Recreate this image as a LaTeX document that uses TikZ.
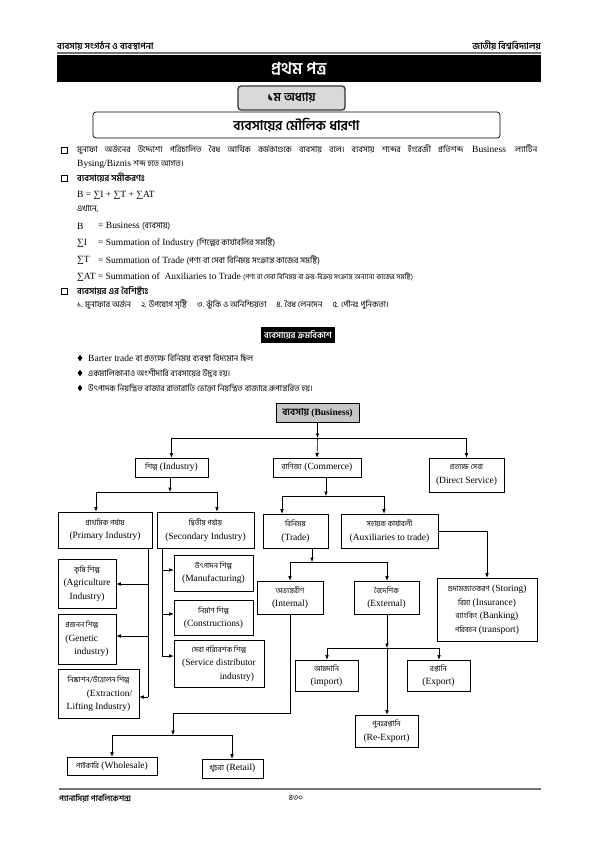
\documentclass[tikz,border=0pt]{standalone}
\usepackage{fontspec}
\setmainfont{Liberation Serif}
\newfontfamily\bn[Script=Bengali]{Hind Siliguri}
\usetikzlibrary{arrows.meta}
\newcommand\bnt[1]{{\bn\fontsize{8.3}{10}\selectfont #1}}
\newcommand\bnsm[1]{{\bn\fontsize{7}{9}\selectfont #1}}
\newcommand\bns[1]{{\bn\fontsize{7.4}{9}\selectfont #1}}
\begin{document}
\begin{tikzpicture}[x=1pt,y=-1pt,
  box/.style={draw, line width=0.6pt, inner sep=1pt, align=center, font=\fontsize{9.5}{13.5}\selectfont},
  arr/.style={line width=0.6pt, -{Latex[length=4.5pt,width=3.6pt]}},
  ln/.style={line width=0.6pt},
  body/.style={anchor=west, inner sep=0pt, font=\fontsize{9.5}{11}\selectfont},
  head/.style={anchor=west, inner sep=0pt, font=\bn\bfseries\fontsize{8.8}{10}\selectfont},
  sqb/.pic={\draw[line width=0.5pt] (-3,-3) rectangle (3,3); \fill (-2,3) rectangle (4.2,4.2); \fill (3,-2) rectangle (4.2,4.2);},
  dmb/.pic={\fill (0,-3.2) -- (2.3,0) -- (0,3.2) -- (-2.3,0) -- cycle;}
]
\useasboundingbox (0,0) rectangle (595,842);
\fill[white] (0,0) rectangle (595,842);

% ---------- header ----------
\node[anchor=west, inner sep=0pt, font=\bn\bfseries\fontsize{9}{10}\selectfont] (hl) at (57,46) {ব্যবসায় সংগঠন ও ব্যবস্থাপনা};
\node[anchor=east, inner sep=0pt, font=\bn\bfseries\fontsize{9}{10}\selectfont] (hr) at (541,46) {জাতীয় বিশ্ববিদ্যালয়};
\draw[black!55, line width=1.5pt] (57,53) -- (541,53);
\node[fill=black, text=white, minimum width=484pt, minimum height=27pt, inner sep=0pt,
      font=\bn\bfseries\fontsize{16.5}{18}\selectfont] (bar) at (299,68.5) {প্রথম পত্র};
\node[draw=black!80, line width=1.3pt, fill=black!15, rounded corners=3pt, minimum width=107pt,
      minimum height=24pt, inner sep=0pt, font=\bn\bfseries\fontsize{12}{14}\selectfont] (chap) at (291.5,98) {১ম অধ্যায়};
\node[draw, line width=0.7pt, rounded corners=3pt, minimum width=407pt, minimum height=26pt, inner sep=0pt,
      font=\bn\bfseries\fontsize{13.5}{15}\selectfont] (ttl) at (296.5,125) {ব্যবসায়ের মৌলিক ধারণা};

% ---------- paragraph ----------
\pic at (64,150) {sqb};
\node[body] (p1) at (77,150) {\makebox[460pt][s]{\bnt{মুনাফা অর্জনের উদ্দেশ্যে পরিচালিত বৈধ আর্থিক কর্মকাণ্ডকে ব্যবসায় বলে। ব্যবসায় শব্দের ইংরেজী প্রতিশব্দ} Business \bnt{ল্যাটিন}}};
\node[body] (p2) at (77,164) {Bysing/Biznis \bnt{শব্দ হতে আগত।}};
\pic at (64,178) {sqb};
\node[head] (h1) at (77,178) {ব্যবসায়ের সমীকরণঃ};
\node[body] (eq) at (77,195) {B = ∑I + ∑T + ∑AT};
\node[body] (ek) at (77,209) {\bnt{এখানে,}};
\node[body] (d1a) at (77,226) {B};
\node[body] (d1b) at (98,226) {= Business \bnt{(ব্যবসায়)}};
\node[body] (d2a) at (77,243) {∑I};
\node[body] (d2b) at (98,243) {= Summation of Industry \bnt{(শিল্পের কার্যাবলির সমষ্টি)}};
\node[body] (d3a) at (77,260) {∑T};
\node[body] (d3b) at (98,260) {= Summation of Trade \bnt{(পণ্য বা সেবা বিনিময় সংক্রান্ত কাজের সমষ্টি)}};
\node[body] (d4) at (77,277) {∑AT = Summation of\ \ Auxiliaries to Trade \bnsm{(পণ্য বা সেবা বিনিময় বা ক্রয়-বিক্রয় সংক্রান্ত অন্যান্য কাজের সমষ্টি)}};
\pic at (64,291) {sqb};
\node[head] (h2) at (77,291) {ব্যবসায়র এর বৈশিষ্ট্যঃ};
\node[body] (lst) at (77,305) {\bnt{১. মুনাফার অর্জন\hspace{10pt}২. উপযোগ সৃষ্টি\hspace{10pt}৩. ঝুঁকি ও অনিশ্চিয়তা\hspace{10pt}৪. বৈধ লেনদেন\hspace{10pt}৫. পৌনঃ পুনিকতা।}};

% ---------- evolution ----------
\node[fill=black, text=white, minimum width=74pt, minimum height=16pt, inner sep=0pt,
      font=\bn\bfseries\fontsize{8.6}{10}\selectfont] (evo) at (298,335) {ব্যবসায়ের ক্রমবিকাশ};
\pic at (80,358) {dmb};
\node[body] (e1) at (88,358) {Barter trade \bnt{বা প্রত্যক্ষ বিনিময় ব্যবস্থা বিদ্যমান ছিল}};
\pic at (80,373) {dmb};
\node[body] (e2) at (88,373) {\bnt{একমালিকানাও অংশীদারি ব্যবসায়ের উদ্ভব হয়।}};
\pic at (80,388) {dmb};
\node[body] (e3) at (88,388) {\bnt{উৎপাদক নিয়ন্ত্রিত বাজার রাতারাতি ভোক্তা নিয়ন্ত্রিত বাজারে রূপান্তরিত হয়।}};

% ---------- tree nodes ----------
\node[box, fill=black!22, minimum width=83pt, minimum height=19pt, font=\bfseries\fontsize{9.5}{11}\selectfont] (business) at (317.5,412.5) {{\bn ব্যবসায়} (Business)};
\node[box, minimum width=73pt, minimum height=19pt] (industry) at (171.5,467.5) {\bns{শিল্প} (Industry)};
\node[box, minimum width=88pt, minimum height=19pt] (commerce) at (317,467.5) {\bns{বাণিজ্য} (Commerce)};
\node[box, minimum width=75pt, minimum height=34pt] (direct) at (466.5,475) {\bns{প্রত্যক্ষ সেবা}\\(Direct Service)};
\node[box, minimum width=94pt, minimum height=36pt] (primary) at (105,530) {\bns{প্রাথমিক পর্যায়}\\(Primary Industry)};
\node[box, minimum width=97pt, minimum height=36pt] (secondary) at (205.5,530) {\bns{দ্বিতীয় পর্যায়}\\(Secondary Industry)};
\node[box, minimum width=65pt, minimum height=34pt] (trade) at (295.5,531) {\bns{বিনিময়}\\(Trade)};
\node[box, minimum width=97pt, minimum height=34pt] (aux) at (389.5,531) {\bns{সহায়ক কার্যাবলী}\\(Auxiliaries to trade)};
\node[box, minimum width=100pt, minimum height=63pt] (storing) at (487,609.5) {\bns{গুদামজাতকরণ} (Storing)\\\bns{বিমা} (Insurance)\\\bns{ব্যাংকিং} (Banking)\\\bns{পরিবহন} (transport)};
\node[box, minimum width=58pt, minimum height=49pt] (agri) at (87,583.5) {\bns{কৃষি শিল্প}\\(Agriculture\\Industry)};
\node[box, minimum width=58pt, minimum height=50pt, align=left, inner xsep=4pt] (genetic) at (87,639) {\bns{প্রজনন শিল্প}\\(Genetic\\\hspace*{9pt}industry)};
\node[box, minimum width=81pt, minimum height=49pt] (extraction) at (98.5,694) {\bns{নিষ্কাশন/উত্তোলন শিল্প}\\\hspace*{22pt}(Extraction/\\Lifting Industry)};
\node[box, minimum width=79pt, minimum height=36pt] (manuf) at (213.5,573) {\bns{উৎপাদন শিল্প}\\(Manufacturing)};
\node[box, minimum width=79pt, minimum height=35pt] (constr) at (213.5,617.5) {\bns{নির্মাণ শিল্প}\\(Constructions)};
\node[box, minimum width=90pt, minimum height=47pt] (service) at (219,663.5) {\bns{সেবা পরিবেশক শিল্প}\\(Service distributor\\\hspace*{36pt}industry)};
\node[box, minimum width=66pt, minimum height=33pt] (internal) at (290,597.5) {\bns{অভ্যন্তরীণ}\\(Internal)};
\node[box, minimum width=65pt, minimum height=33pt] (external) at (386.5,597.5) {\bns{বৈদেশিক}\\(External)};
\node[box, minimum width=63pt, minimum height=31pt] (import) at (326.5,675.5) {\bns{আমদানি}\\(import)};
\node[box, minimum width=63pt, minimum height=31pt] (export) at (438.5,675.5) {\bns{রপ্তানি}\\(Export)};
\node[box, minimum width=63pt, minimum height=32pt] (reexport) at (386.5,731) {\bns{পুনঃরপ্তানি}\\(Re-Export)};
\node[box, minimum width=90pt, minimum height=18pt] (wholesale) at (112,766) {\bns{পাইকারি} (Wholesale)};
\node[box, minimum width=61pt, minimum height=19pt] (retail) at (232.5,768.5) {\bns{খুচরা} (Retail)};

% ---------- connectors ----------
\coordinate (j1) at (317.5,438);
\draw[arr] (business.south) -- (j1);
\draw[ln] (industry.north |- j1) -- (direct.north |- j1);
\draw[arr] (industry.north |- j1) -- (industry.north);
\draw[arr] (j1) -- (commerce.north);
\draw[arr] (direct.north |- j1) -- (direct.north);

\coordinate (j2) at (170,492);
\coordinate (j2l) at (96,492);
\coordinate (j2r) at (217,492);
\draw[arr] (industry.south -| j2) -- (j2);
\draw[ln] (j2l) -- (j2r);
\draw[arr] (j2l) -- (j2l |- primary.north);
\draw[arr] (j2r) -- (j2r |- secondary.north);

\coordinate (j3) at (326,496);
\coordinate (j3l) at (282,496);
\coordinate (j3r) at (384,496);
\draw[arr] (commerce.south -| j3) -- (j3);
\draw[ln] (j3l) -- (j3r);
\draw[arr] (j3l) -- (j3l |- trade.north);
\draw[arr] (j3r) -- (j3r |- aux.north);

\draw[arr] (aux.east) -| (storing.north);

\coordinate (j4) at (312,562);
\coordinate (j4l) at (290,562);
\coordinate (j4r) at (387,562);
\draw[arr] (trade.south -| j4) -- (j4);
\draw[ln] (j4l) -- (j4r);
\draw[arr] (j4l) -- (j4l |- internal.north);
\draw[arr] (j4r) -- (j4r |- external.north);

\coordinate (j5) at (387,648);
\coordinate (j5l) at (327,648);
\coordinate (j5r) at (439,648);
\draw[arr] (external.south -| j5) -- (j5);
\draw[ln] (j5l) -- (j5r);
\draw[arr] (j5l) -- (j5l |- import.north);
\draw[arr] (j5r) -- (j5r |- export.north);
\draw[arr] (j5) -- (j5 |- reexport.north);

\coordinate (k1) at (173,713);
\coordinate (j6) at (173,735);
\coordinate (j6l) at (112,735);
\coordinate (j6r) at (232,735);
\draw[ln] (internal.south) |- (k1);
\draw[arr] (k1) -- (j6);
\draw[ln] (j6l) -- (j6r);
\draw[arr] (j6l) -- (j6l |- wholesale.north);
\draw[arr] (j6r) -- (j6r |- retail.north);

\coordinate (a1) at (148,584);
\coordinate (a2) at (148,636);
\coordinate (a3) at (148,697);
\draw[ln] (primary.south -| a1) -- (a3);
\draw[arr] (a1) -- (a1 -| agri.east);
\draw[arr] (a2) -- (a2 -| genetic.east);
\draw[arr] (a3) -- (a3 -| extraction.east);

\coordinate (s1) at (162,570);
\coordinate (s2) at (162,614);
\coordinate (s3) at (162,656);
\draw[ln] (secondary.south -| s1) -- (s3);
\draw[arr] (s1) -- (s1 -| manuf.west);
\draw[arr] (s2) -- (s2 -| constr.west);
\draw[arr] (s3) -- (s3 -| service.west);

% ---------- footer ----------
\draw[black!55, line width=1.5pt] (59,789) -- (541,789);
\node[anchor=west, inner sep=0pt, font=\bn\bfseries\fontsize{8}{9}\selectfont] (fl) at (59,798) {প্যানাসিয়া পাবলিকেশন্স};
\node[inner sep=0pt, font=\bn\fontsize{8}{9}\selectfont] (fp) at (296,798) {৪৩০};
\end{tikzpicture}
\end{document}
